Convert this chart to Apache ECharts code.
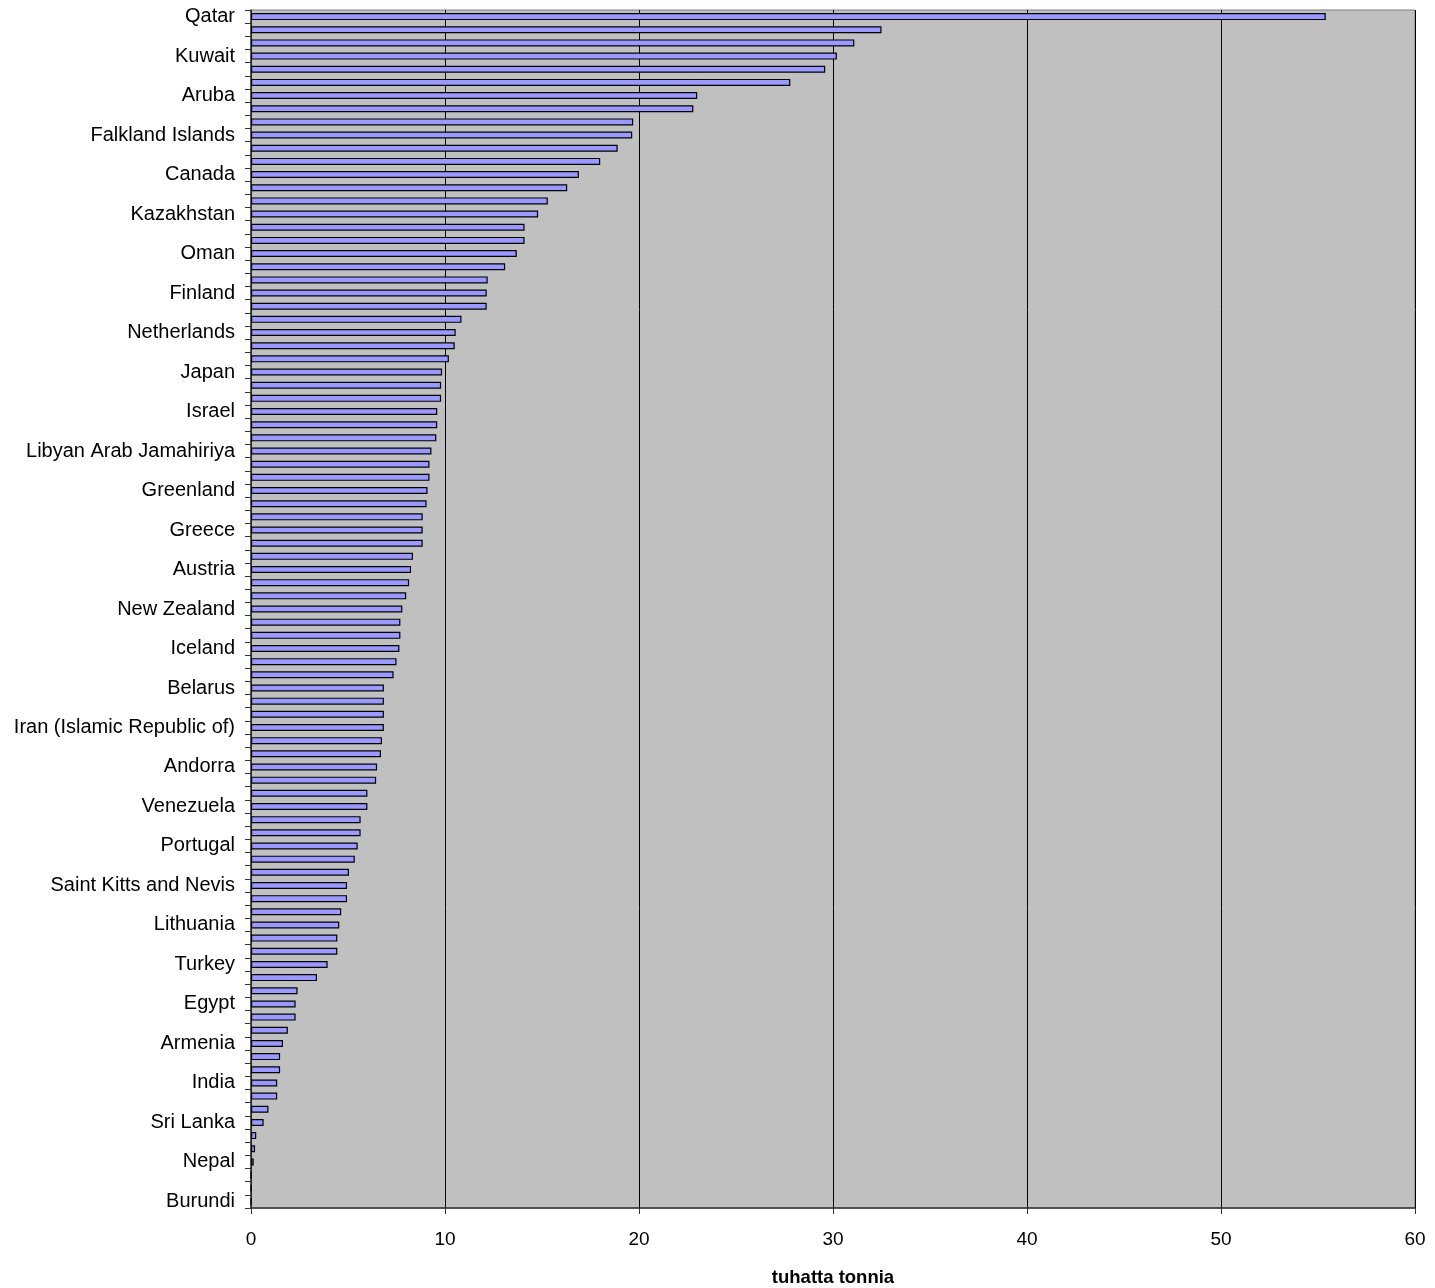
<!DOCTYPE html>
<html>
<head>
<meta charset="utf-8">
<script src="https://cdn.jsdelivr.net/npm/echarts@6/dist/echarts.min.js"></script>
<style>
html,body{margin:0;padding:0;background:#fff;}
#chart{width:1435px;height:1288px;}
</style>
</head>
<body>
<div id="chart"></div>
<script>
// Categories (only every third is labelled in the chart)
var countries = [
  "Qatar","United Arab Emirates","Bahrain","Kuwait","Luxembourg","Trinidad and Tobago",
  "Aruba","Brunei Darussalam","United States","Falkland Islands","Australia","Saudi Arabia",
  "Canada","Netherlands Antilles","Singapore","Kazakhstan","Estonia","Norway",
  "Oman","Czech Republic","Russian Federation","Finland","Turkmenistan","Belgium",
  "Netherlands","Germany","Republic of Korea","Japan","Ireland","Denmark",
  "Israel","United Kingdom","Palau","Libyan Arab Jamahiriya","Nauru","Cyprus",
  "Greenland","South Africa","Poland","Greece","Slovenia","Malta",
  "Austria","Seychelles","Bahamas","New Zealand","Italy","Spain",
  "Iceland","Antigua and Barbuda","Slovakia","Belarus","Ukraine","Malaysia",
  "Iran (Islamic Republic of)","Bulgaria","France","Andorra","Switzerland","Sweden",
  "Venezuela","Serbia","Hungary","Portugal","Croatia","Montenegro",
  "Saint Kitts and Nevis","Macedonia","Argentina","Lithuania","Latvia","Mexico",
  "Turkey","Chile","China","Egypt","Brazil","Indonesia",
  "Armenia","Georgia","Honduras","India","Philippines","Pakistan",
  "Sri Lanka","Bangladesh","Kenya","Nepal","Ethiopia","Chad",
  "Burundi"
];
// Values
var values = [
  55.4, 32.5, 31.1, 30.2, 29.6, 27.8,
  23.0, 22.8, 19.7, 19.65, 18.9, 18.0,
  16.9, 16.3, 15.3, 14.8, 14.1, 14.1,
  13.7, 13.1, 12.2, 12.15, 12.15, 10.85,
  10.55, 10.5, 10.2, 9.85, 9.8, 9.8,
  9.6, 9.6, 9.55, 9.3, 9.2, 9.2,
  9.1, 9.05, 8.85, 8.85, 8.85, 8.35,
  8.25, 8.15, 8.0, 7.8, 7.7, 7.7,
  7.65, 7.5, 7.35, 6.85, 6.85, 6.85,
  6.85, 6.75, 6.7, 6.5, 6.45, 6.0,
  6.0, 5.65, 5.65, 5.5, 5.35, 5.05,
  4.95, 4.95, 4.65, 4.55, 4.45, 4.45,
  3.95, 3.4, 2.4, 2.3, 2.3, 1.9,
  1.65, 1.5, 1.5, 1.35, 1.35, 0.9,
  0.65, 0.27, 0.21, 0.14, 0, 0,
  0
];
var axisName = "tuhatta tonnia";

var chart = echarts.init(document.getElementById('chart'), null, {renderer: 'canvas'});
var FONT = "'Liberation Sans', Arial, sans-serif";
chart.setOption({
  animation: false,
  backgroundColor: '#ffffff',
  grid: {
    left: 251, right: 20, top: 10, bottom: 80,
    containLabel: false, outerBoundsMode: 'none',
    show: true, backgroundColor: '#C0C0C0', borderColor: '#808080', borderWidth: 1
  },
  xAxis: {
    type: 'value', min: 0, max: 60, interval: 10,
    name: axisName, nameLocation: 'middle', nameGap: 60,
    nameTextStyle: {fontFamily: FONT, fontSize: 18.5, fontWeight: 'bold', color: '#000'},
    axisLine: {show: true, lineStyle: {color: '#333', width: 1.5}},
    axisTick: {show: true, length: 6, lineStyle: {color: '#333'}},
    axisLabel: {fontFamily: FONT, fontSize: 19, color: '#000', margin: 22},
    splitLine: {show: true, lineStyle: {color: '#000', width: 1}}
  },
  yAxis: {
    type: 'category', data: countries, inverse: true,
    axisLine: {show: true, lineStyle: {color: '#333', width: 1.5}},
    axisTick: {show: true, interval: 0, alignWithLabel: false, length: 6, lineStyle: {color: '#333'}},
    axisLabel: {interval: 2, fontFamily: FONT, fontSize: 20, color: '#000', margin: 16},
    splitLine: {show: false}
  },
  series: [{
    type: 'bar', data: values, barWidth: 7,
    itemStyle: {color: '#9999FF', borderColor: '#000', borderWidth: 1.2}
  }]
});
</script>
</body>
</html>
